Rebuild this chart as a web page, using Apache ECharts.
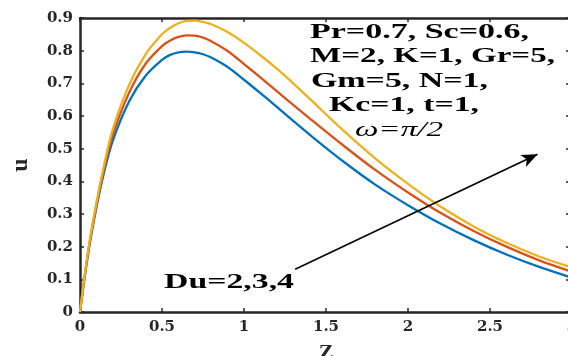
<!DOCTYPE html>
<html>
<head>
<meta charset="utf-8">
<script src="https://cdn.jsdelivr.net/npm/echarts@6/dist/echarts.min.js"></script>
<style>
html,body{margin:0;padding:0;background:#fff;}
#c{width:568px;height:356px;}
</style>
</head>
<body>
<div id="c"></div>
<script>
// ---- data ----
const zValues = [0, 0.05, 0.1, 0.15, 0.2, 0.3, 0.4, 0.5, 0.55, 0.6, 0.65, 0.7, 0.75, 0.8, 0.9, 1.0, 1.1, 1.2, 1.3, 1.4, 1.6, 1.8, 2.0, 2.2, 2.4, 2.6, 2.8, 3.0];
const uDu2 = [0, 0.18, 0.32, 0.435, 0.525, 0.645, 0.723, 0.772, 0.787, 0.795, 0.797, 0.795, 0.789, 0.779, 0.750, 0.711, 0.670, 0.628, 0.585, 0.543, 0.463, 0.390, 0.327, 0.270, 0.220, 0.176, 0.138, 0.105];
const uDu3 = [0, 0.185, 0.328, 0.447, 0.543, 0.672, 0.760, 0.814, 0.831, 0.842, 0.847, 0.846, 0.840, 0.829, 0.799, 0.759, 0.718, 0.676, 0.634, 0.593, 0.512, 0.435, 0.366, 0.303, 0.248, 0.200, 0.158, 0.123];
const uDu4 = [0, 0.19, 0.335, 0.458, 0.560, 0.696, 0.789, 0.850, 0.870, 0.884, 0.891, 0.892, 0.888, 0.881, 0.857, 0.824, 0.786, 0.745, 0.700, 0.653, 0.558, 0.470, 0.392, 0.322, 0.262, 0.212, 0.170, 0.136];
const seriesNames = ['Du=2', 'Du=3', 'Du=4'];
const xTicks = [0, 0.5, 1, 1.5, 2, 2.5, 3];
const yTicks = [0, 0.1, 0.2, 0.3, 0.4, 0.5, 0.6, 0.7, 0.8, 0.9];
const annotationLines = ['Pr=0.7, Sc=0.6,', 'M=2, K=1, Gr=5,', 'Gm=5, N=1,', 'Kc=1, t=1,'];
const omegaLabel = '\u03c9=\u03c0/2';
const duLabel = 'Du=2,3,4';
// arrow endpoints in data units (z, u)
const arrowStart = [1.312, 0.131];
const arrowEnd = [2.790, 0.483];

const colors = ['#0072BD', '#D95319', '#EDB120'];
const axisColor = '#262626';

function pairs(ys){ return zValues.map((z,i)=>[z, ys[i]]); }

// measure text to stretch annotations horizontally like the reference
const cv = document.createElement('canvas').getContext('2d');
function stretch(text, font, target){
  cv.font = font;
  return target / cv.measureText(text).width;
}
const annFont = 'bold 20px "Liberation Serif"';
const omFont = 'italic 20px "Liberation Serif"';
const annLeft = [310, 310, 311, 329];
const annY = [32.5, 57, 81.5, 106];
const annW = [219, 245, 177, 150];

const graphics = annotationLines.map((t,i)=>({
  type:'text', x: annLeft[i], y: annY[i], scaleX: stretch(t, annFont, annW[i]), silent:true,
  style:{text:t, font:annFont, fill:'#000', textAlign:'left', textVerticalAlign:'middle'}
}));
graphics.push({type:'text', x:355, y:131, scaleX: stretch(omegaLabel, omFont, 88), silent:true,
  style:{text:omegaLabel, font:omFont, fill:'#000', textAlign:'left', textVerticalAlign:'middle'}});
graphics.push({type:'text', x:164, y:283, scaleX: stretch(duLabel, annFont, 130), silent:true,
  style:{text:duLabel, font:annFont, fill:'#000', textAlign:'left', textVerticalAlign:'middle'}});

const chart = echarts.init(document.getElementById('c'), null, {renderer:'canvas'});
const labelFont = {fontFamily:'DejaVu Serif', fontWeight:'bold', fontSize:15, color:axisColor};

const option = {
  animation:false,
  backgroundColor:'#fff',
  grid:{left:80, right:-4, top:18, bottom:44, show:false, containLabel:false, outerBoundsMode:'none'},
  xAxis:[
    {type:'value', min:0, max:3, interval:0.5, position:'bottom',
     name:'Z', nameLocation:'middle', nameGap:30,
     nameTextStyle:{fontFamily:'Liberation Serif', fontWeight:'bold', fontSize:22, color:axisColor},
     axisLine:{show:true, onZero:false, lineStyle:{color:axisColor, width:2.5}},
     axisTick:{show:true, inside:true, length:4, lineStyle:{color:axisColor, width:1.5}},
     axisLabel:Object.assign({margin:8, formatter:v=>String(v)}, labelFont),
     splitLine:{show:false}},
    {type:'value', min:0, max:3, interval:0.5, position:'top',
     axisLine:{show:true, onZero:false, lineStyle:{color:axisColor, width:2.5}},
     axisTick:{show:true, inside:true, length:4, lineStyle:{color:axisColor, width:1.5}},
     axisLabel:{show:false}, splitLine:{show:false}}
  ],
  yAxis:[
    {type:'value', min:0, max:0.9, interval:0.1, position:'left',
     name:'u', nameLocation:'middle', nameGap:47, nameRotate:90,
     nameTextStyle:{fontFamily:'Liberation Serif', fontWeight:'bold', fontSize:24, color:axisColor},
     axisLine:{show:true, onZero:false, lineStyle:{color:axisColor, width:2.5}},
     axisTick:{show:true, inside:true, length:4, lineStyle:{color:axisColor, width:1.5}},
     axisLabel:Object.assign({margin:7, formatter:v=>String(+v.toFixed(1))}, labelFont),
     splitLine:{show:false}},
    {type:'value', min:0, max:0.9, interval:0.1, position:'right',
     axisLine:{show:true, onZero:false, lineStyle:{color:axisColor, width:2.5}},
     axisTick:{show:true, inside:true, length:6, lineStyle:{color:axisColor, width:1.5}},
     axisLabel:{show:false}, splitLine:{show:false}}
  ],
  series:[
    {name:seriesNames[0], type:'line', data:pairs(uDu2), smooth:0.3, showSymbol:false,
     lineStyle:{color:colors[0], width:2.3}, itemStyle:{color:colors[0]},
     markLine:{silent:true, symbol:['none','arrow'], symbolSize:[10,16],
       label:{show:false}, lineStyle:{color:'#000', width:1.6, type:'solid'},
       emphasis:{disabled:true},
       data:[[{coord:arrowStart},{coord:arrowEnd}]]}},
    {name:seriesNames[1], type:'line', data:pairs(uDu3), smooth:0.3, showSymbol:false,
     lineStyle:{color:colors[1], width:2.3}, itemStyle:{color:colors[1]}},
    {name:seriesNames[2], type:'line', data:pairs(uDu4), smooth:0.3, showSymbol:false,
     lineStyle:{color:colors[2], width:2.3}, itemStyle:{color:colors[2]}}
  ],
  graphic:graphics
};
chart.setOption(option);
</script>
</body>
</html>
